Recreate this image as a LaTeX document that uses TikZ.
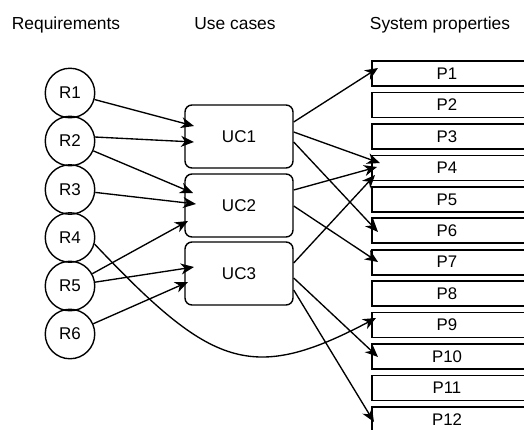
\documentclass[tikz,border=0pt]{standalone}
\usepackage{fontspec}
\setmainfont{Liberation Sans}
\usetikzlibrary{arrows.meta,calc}
\begin{document}
\begin{tikzpicture}[x=1pt,y=-1pt,
  header/.style={font=\fontsize{17.4}{20}\selectfont,anchor=base},
  req/.style={circle,draw,line width=1.4pt,minimum size=49.5pt,inner sep=0pt,
    font=\fontsize{17}{20}\selectfont},
  usecase/.style={draw,rounded corners=7pt,line width=1.4pt,minimum width=108pt,
    minimum height=63pt,inner sep=0pt,font=\fontsize{17}{20}\selectfont},
  prop/.style={draw,line width=1.7pt,minimum width=154pt,minimum height=25pt,
    inner sep=0pt,anchor=west},
  plabel/.style={font=\fontsize{16.8}{20}\selectfont},
  link/.style={line width=1.35pt,-{Stealth[length=13pt,width=11pt,inset=4pt]}}]
\useasboundingbox (0,0) rectangle (524,429);
\clip (0,0) rectangle (524,429);

% column headings
\node[header] (hreq) at (66,29) {Requirements};
\node[header] (huc)  at (235,29) {Use cases};
\node[header] (hsp)  at (440,29) {System properties};

% requirements
\foreach \i/\y in {1/93,2/141,3/189.5,4/237.5,5/286,6/334}
  \node[req] (R\i) at (70,\y) {R\i};

% use cases
\node[usecase] (UC1) at (239,136.5) {UC1};
\node[usecase] (UC2) at (239,205.5) {UC2};
\node[usecase] (UC3) at (239,273.5) {UC3};

% system properties
\foreach \i in {1,...,12}{
  \pgfmathsetmacro{\py}{73.5+31.45*(\i-1)}
  \node[prop] (P\i) at (371,\py) {};
  \node[plabel] (PL\i) at (447,\py) {P\i};
}

% arrow tips on the use cases
\coordinate (u1a) at (194,126);
\coordinate (u1b) at (194,142);
\coordinate (u2a) at (193,193);
\coordinate (u2b) at (196,204);
\coordinate (u2c) at (188,221);
\coordinate (u3a) at (194,267);
\coordinate (u3b) at (188,282);

% arrow tips on the properties
\coordinate (p1)  at (378,68);
\coordinate (p4a) at (380,163);
\coordinate (p4b) at (377,167);
\coordinate (p4c) at (375,175);
\coordinate (p6)  at (378,232);
\coordinate (p7)  at (378,262);
\coordinate (p9)  at (376,318);
\coordinate (p10) at (378,357);
\coordinate (p12) at (374,422);

% requirements to use cases
\draw[link] (R1) -- (u1a);
\draw[link] (R2.9) -- (u1b);
\draw[link] (R2) -- (u2a);
\draw[link] (R3) -- (u2b);
\draw[link] (R5) -- (u2c);
\draw[link] (R5) -- (u3a);
\draw[link] (R6) -- (u3b);

% requirement realised directly by a property
\draw[link] (R4.-15) .. controls (211,367) and (251,384) .. (p9);

% use cases to properties
\draw[link] ($(UC1.east)+(0,-14.5)$) -- (p1);
\draw[link] ($(UC1.east)+(0,-4.5)$)  -- (p4a);
\draw[link] ($(UC1.east)+(0,5.5)$)   -- (p6);
\draw[link] ($(UC2.east)+(0,-15.5)$) -- (p4b);
\draw[link] ($(UC2.east)+(0,0.5)$)   -- (p7);
\draw[link] ($(UC3.east)+(0,-10.5)$) -- (p4c);
\draw[link] ($(UC3.east)+(0,4.5)$)   -- (p10);
\draw[link] ($(UC3.east)+(0,16.5)$)  -- (p12);
\end{tikzpicture}
\end{document}
